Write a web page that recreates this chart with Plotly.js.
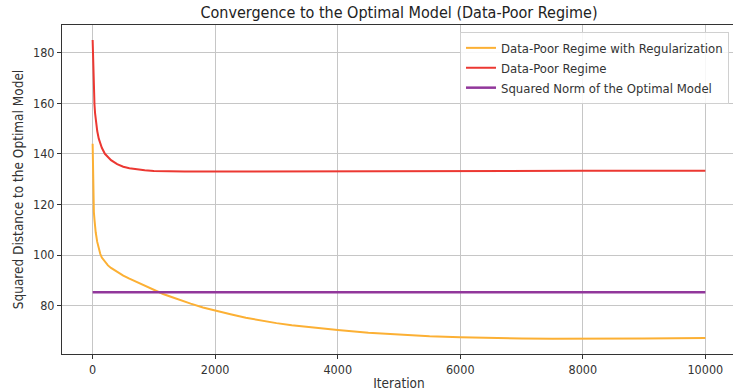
<!DOCTYPE html>
<html>
<head>
<meta charset="utf-8">
<script src="https://cdn.plot.ly/plotly-3.0.1.min.js"></script>
<style>
html,body{margin:0;padding:0;overflow:hidden;background:#fff;}
#chart{width:740px;height:391px;}
</style>
</head>
<body>
<div id="chart"></div>
<script>
// Data
var regIter = [0, 5, 10, 20, 30, 40, 50, 75, 100, 125, 150, 200, 250, 300, 400, 500, 600, 700, 850, 1000, 1150, 1300, 1450, 1600, 1800, 2000, 2250, 2500, 2750, 3000, 3250, 3500, 3750, 4000, 4500, 5000, 5500, 6000, 6500, 7000, 7500, 8000, 9000, 10000];
var regValues = [144, 128, 122, 117, 114, 111.2, 109, 105.2, 102.4, 100.4, 99, 97.2, 95.9, 94.9, 93.3, 91.9, 90.7, 89.6, 87.8, 86, 84.6, 83.3, 82, 80.8, 79.3, 78, 76.6, 75.2, 74.1, 73.1, 72.3, 71.6, 71, 70.4, 69.3, 68.5, 67.9, 67.5, 67.2, 67.0, 66.9, 66.9, 67.0, 67.2];

var poorIter = [0, 5, 10, 20, 30, 40, 50, 75, 100, 125, 150, 200, 250, 300, 400, 500, 600, 700, 850, 1000, 1250, 1500, 2000, 3000, 4000, 6000, 8000, 10000];
var poorValues = [185, 178, 172, 164.5, 159.5, 156, 153.3, 149, 146, 144, 142.4, 140, 138.6, 137.5, 135.9, 134.9, 134.3, 133.9, 133.5, 133.2, 133.05, 133.0, 133.0, 133.1, 133.2, 133.3, 133.3, 133.3];

var optIter = [0, 10000];
var optValues = [85.3, 85.3];

var seriesNames = ["Data-Poor Regime with Regularization", "Data-Poor Regime", "Squared Norm of the Optimal Model"];
var xTicks = [0, 2000, 4000, 6000, 8000, 10000];
var yTicks = [80, 100, 120, 140, 160, 180];

var font = "DejaVu Sans Condensed, DejaVu Sans, sans-serif";
var traces = [
  {x: regIter, y: regValues, name: seriesNames[0], mode: "lines", line: {color: "rgb(252,176,52)", width: 2}},
  {x: poorIter, y: poorValues, name: seriesNames[1], mode: "lines", line: {color: "rgb(236,56,50)", width: 2}},
  {x: optIter, y: optValues, name: seriesNames[2], mode: "lines", line: {color: "rgb(145,55,155)", width: 2.5}}
];

var axisCommon = {
  showline: true, mirror: true, linecolor: "#333", linewidth: 1,
  ticks: "outside", ticklen: 4, tickcolor: "#333", tickwidth: 1,
  showgrid: true, gridcolor: "#c6c6c6", gridwidth: 1, zeroline: false,
  tickfont: {family: font, size: 12.5, color: "#333"}
};

var layout = {
  width: 740, height: 391,
  margin: {l: 62, r: 4, t: 25, b: 37},
  paper_bgcolor: "#fff", plot_bgcolor: "#fff",
  showlegend: true,
  title: {text: "Convergence to the Optimal Model (Data-Poor Regime)", font: {family: font, size: 16, color: "#222"},
          x: 0.5, xref: "paper", xanchor: "center", y: 0.968, yanchor: "middle"},
  xaxis: Object.assign({}, axisCommon, {range: [-500, 10500], tickvals: xTicks, ticktext: xTicks.map(String),
          title: {text: "Iteration", font: {family: font, size: 13.5, color: "#333"}, standoff: 2}}),
  yaxis: Object.assign({}, axisCommon, {range: [60.9, 190.9], tickvals: yTicks,
          title: {text: "Squared Distance to the Optimal Model", font: {family: font, size: 13.5, color: "#333"}, standoff: 6}}),
  legend: {x: 0.9896, xanchor: "right", y: 0.979, yanchor: "top",
           bgcolor: "rgba(255,255,255,0.85)", bordercolor: "#d0d0d0", borderwidth: 1,
           font: {family: font, size: 13, color: "#333"}, itemwidth: 30, tracegroupgap: 0}
};

Plotly.newPlot("chart", traces, layout, {staticPlot: true, displayModeBar: false});
</script>
</body>
</html>
